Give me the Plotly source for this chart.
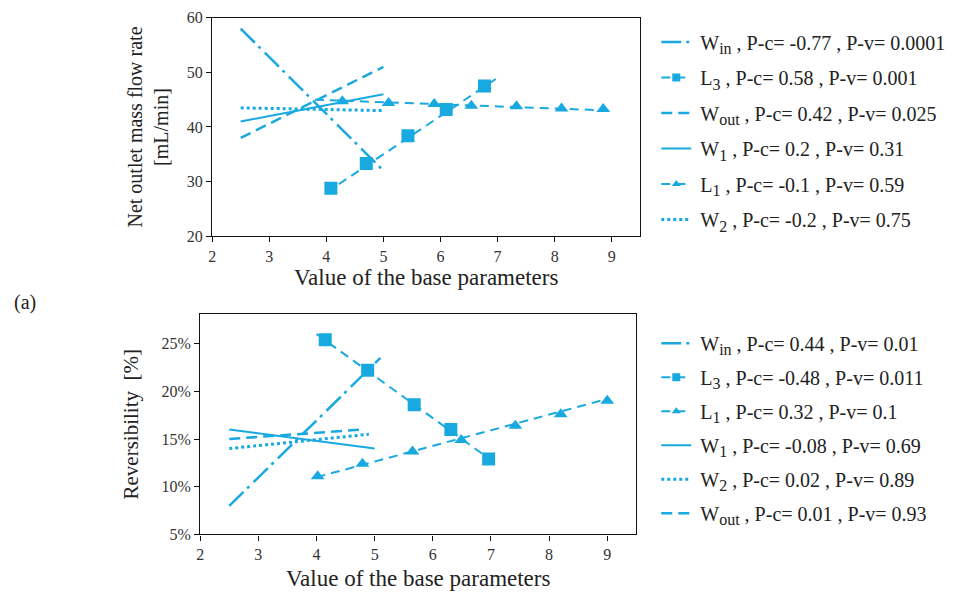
import plotly.graph_objects as go

BLUE = "#19A9E1"
FONT = "Liberation Serif"

# ---- Net outlet mass flow rate (top panel) ----
top_win_x, top_win_y = [2.5, 5.0], [58.0, 32.0]
top_wout_x, top_wout_y = [2.5, 5.0], [38.0, 51.0]
top_w1_x, top_w1_y = [2.5, 5.0], [41.0, 46.0]
top_w2_x, top_w2_y = [2.5, 5.0], [43.5, 43.0]
top_l3_x = [4.08, 4.70, 5.43, 6.10, 6.77]
top_l3_y = [28.8, 33.3, 38.4, 43.2, 47.5]
top_l3_fit_x, top_l3_fit_y = [4.0, 7.0], [28.0, 49.0]
top_l1_x = [4.28, 5.09, 5.89, 6.54, 7.33, 8.12, 8.85]
top_l1_y = [44.7, 44.4, 44.2, 43.9, 43.8, 43.4, 43.3]
top_l1_fit_x, top_l1_fit_y = [3.8, 9.0], [45.0, 43.0]


def sub(s):
    return f'<sub><span style="font-size:16px">{s}</span></sub>'


def label(sym, idx, pc, pv):
    return f"\u2009{sym}{sub(idx)} , P-c= {pc} , P-v= {pv}"


top_labels = {
    "win": label("W", "in", "-0.77", "0.0001"),
    "l3": label("L", "3", "0.58", "0.001"),
    "wout": label("W", "out", "0.42", "0.025"),
    "w1": label("W", "1", "0.2", "0.31"),
    "l1": label("L", "1", "-0.1", "0.59"),
    "w2": label("W", "2", "-0.2", "0.75"),
}
top_order = ["win", "l3", "wout", "w1", "l1", "w2"]

# ---- Reversibility (bottom panel) ----
bot_win_x, bot_win_y = [2.5, 5.1], [8.0, 23.5]
bot_wout_x, bot_wout_y = [2.5, 4.8], [15.0, 16.0]
bot_w1_x, bot_w1_y = [2.5, 5.0], [16.0, 14.0]
bot_w2_x, bot_w2_y = [2.5, 4.9], [14.0, 15.5]
bot_l3_x = [4.15, 4.88, 5.68, 6.31, 6.96]
bot_l3_y = [25.4, 22.2, 18.6, 16.0, 12.9]
bot_l3_fit_x, bot_l3_fit_y = [4.0, 7.0], [26.0, 12.8]
bot_l1_x = [4.02, 4.79, 5.65, 6.49, 7.42, 8.20, 9.00]
bot_l1_y = [11.1, 12.4, 13.7, 14.9, 16.4, 17.6, 19.0]
bot_l1_fit_x, bot_l1_fit_y = [4.0, 9.0], [11.0, 19.2]

bot_labels = {
    "win": label("W", "in", "0.44", "0.01"),
    "l3": label("L", "3", "-0.48", "0.011"),
    "l1": label("L", "1", "0.32", "0.1"),
    "w1": label("W", "1", "-0.08", "0.69"),
    "w2": label("W", "2", "0.02", "0.89"),
    "wout": label("W", "out", "0.01", "0.93"),
}
bot_order = ["win", "l3", "l1", "w1", "w2", "wout"]

x_ticks = [2, 3, 4, 5, 6, 7, 8, 9]
top_y_ticks = [20, 30, 40, 50, 60]
bot_y_ticks = [5, 10, 15, 20, 25]

styles = {
    "win": dict(dash="20px,5px,3px,6px", width=2.5),
    "wout": dict(dash="11px,6px", width=2.5),
    "w1": dict(dash="solid", width=2),
    "w2": dict(dash="dot", width=3),
    "l3": dict(dash="9px,6px", width=2),
    "l1": dict(dash="9px,6px", width=2),
}
symbols = {"l3": "square", "l1": "triangle-up"}
sizes = {"l3": 13, "l1": 12}

fig = go.Figure()


def add_panel(series, labels, order, xa, ya, legend):
    for key in order:
        st = styles[key]
        line = dict(color=BLUE, width=st["width"], dash=st["dash"])
        if key in symbols:
            fx, fy, px, py = series[key]
            fig.add_trace(go.Scatter(x=fx, y=fy, mode="lines", line=line,
                                     xaxis=xa, yaxis=ya, showlegend=False,
                                     hoverinfo="skip"))
            fig.add_trace(go.Scatter(x=px, y=py, mode="markers",
                                     marker=dict(symbol=symbols[key],
                                                 size=sizes[key], color=BLUE),
                                     xaxis=xa, yaxis=ya, showlegend=False))
            # legend entry: dashed line with the series marker
            fig.add_trace(go.Scatter(x=[None], y=[None], mode="lines+markers",
                                     line=line,
                                     marker=dict(symbol=symbols[key], size=8,
                                                 color=BLUE),
                                     name=labels[key], legend=legend,
                                     legendgroup=legend + key,
                                     xaxis=xa, yaxis=ya))
        else:
            sx, sy = series[key]
            fig.add_trace(go.Scatter(x=sx, y=sy, mode="lines", line=line,
                                     name=labels[key], legend=legend,
                                     legendgroup=legend + key,
                                     xaxis=xa, yaxis=ya))


add_panel({
    "win": (top_win_x, top_win_y),
    "wout": (top_wout_x, top_wout_y),
    "w1": (top_w1_x, top_w1_y),
    "w2": (top_w2_x, top_w2_y),
    "l3": (top_l3_fit_x, top_l3_fit_y, top_l3_x, top_l3_y),
    "l1": (top_l1_fit_x, top_l1_fit_y, top_l1_x, top_l1_y),
}, top_labels, top_order, "x", "y", "legend")

add_panel({
    "win": (bot_win_x, bot_win_y),
    "wout": (bot_wout_x, bot_wout_y),
    "w1": (bot_w1_x, bot_w1_y),
    "w2": (bot_w2_x, bot_w2_y),
    "l3": (bot_l3_fit_x, bot_l3_fit_y, bot_l3_x, bot_l3_y),
    "l1": (bot_l1_fit_x, bot_l1_fit_y, bot_l1_x, bot_l1_y),
}, bot_labels, bot_order, "x2", "y2", "legend2")

W, H = 960, 594
axis_common = dict(showline=True, linecolor="#111", linewidth=1.3, mirror=True,
                   ticks="outside", ticklen=5, tickcolor="#111", tickwidth=1.3,
                   showgrid=False, zeroline=False,
                   tickfont=dict(family=FONT, size=16, color="#333"))
title_font = dict(family=FONT, size=23, color="#222")

fig.update_layout(
    width=W, height=H,
    margin=dict(l=0, r=0, t=0, b=0),
    paper_bgcolor="white", plot_bgcolor="white",
    font=dict(family=FONT, color="#222"),
    xaxis=dict(domain=[209 / W, 639 / W], anchor="y", range=[2, 9.5],
               tickvals=x_ticks, title=dict(text="Value of the base parameters",
                                            font=title_font, standoff=3),
               **axis_common),
    yaxis=dict(domain=[1 - 235 / H, 1 - 10 / H], anchor="x", range=[20, 60],
               tickvals=top_y_ticks,
               title=dict(text="Net outlet mass flow rate<br>[mL/min]",
                          font=dict(family=FONT, size=20, color="#222"),
                          standoff=12),
               **axis_common),
    xaxis2=dict(domain=[197 / W, 635 / W], anchor="y2", range=[2, 9.5],
                tickvals=x_ticks, title=dict(text="Value of the base parameters",
                                             font=title_font, standoff=8),
                **axis_common),
    yaxis2=dict(domain=[1 - 542 / H, 1 - 315 / H], anchor="x2", range=[5, 28.1],
                tickvals=bot_y_ticks, ticktext=[f"{v}%" for v in bot_y_ticks],
                title=dict(text="Reversibility  [%]",
                           font=dict(family=FONT, size=21, color="#222"),
                           standoff=17),
                **axis_common),
    legend=dict(x=655 / W, y=1 - 15 / H, xanchor="left", yanchor="top",
                font=dict(family=FONT, size=20, color="#222"),
                bgcolor="rgba(0,0,0,0)", itemwidth=30, tracegroupgap=6.5),
    legend2=dict(x=655 / W, y=1 - 325 / H, xanchor="left", yanchor="top",
                 font=dict(family=FONT, size=20, color="#222"),
                 bgcolor="rgba(0,0,0,0)", itemwidth=30, tracegroupgap=5),
    annotations=[dict(text="(a)", x=8 / W, y=1 - 303 / H, xref="paper",
                      yref="paper", xanchor="left", yanchor="middle",
                      showarrow=False,
                      font=dict(family=FONT, size=20, color="#222"))],
)

fig.write_html("out.html")
